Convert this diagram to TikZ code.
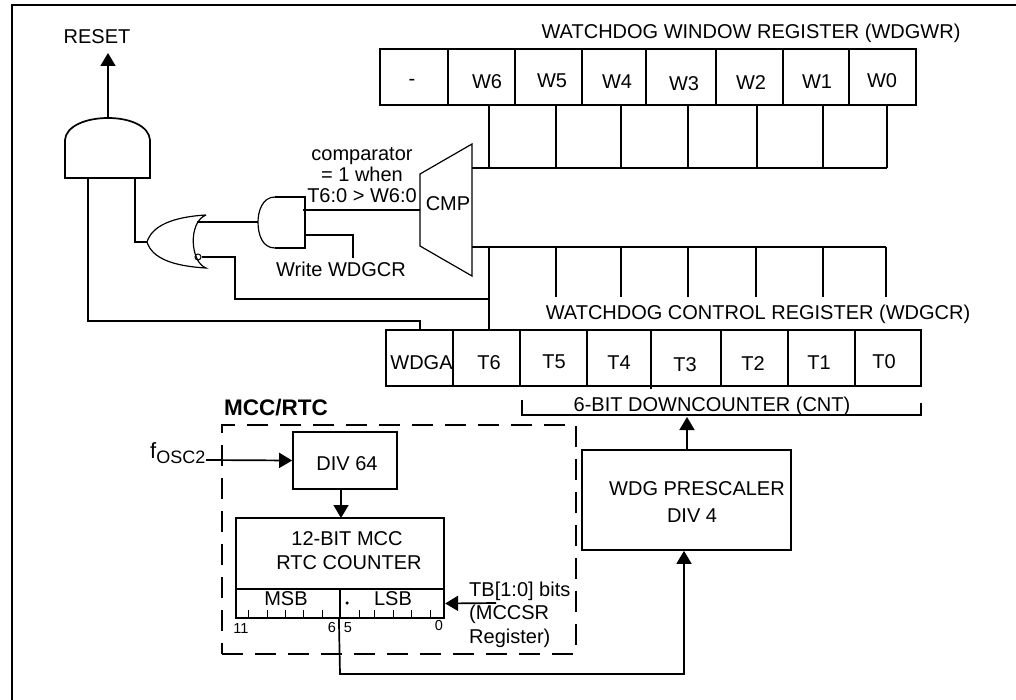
\documentclass[tikz,border=0pt]{standalone}
\usepackage{fontspec}
\setmainfont{Liberation Sans}
\usetikzlibrary{arrows.meta}
\tikzset{
  wire/.style={line width=1.7pt},
  arrow wire/.style={wire,-{Triangle[length=13pt,width=15pt]}},
  txt/.style={inner sep=0pt,text height=14.3pt,text depth=0pt,font=\fontsize{20}{21}\selectfont},
  small txt/.style={inner sep=0pt,text height=10.4pt,text depth=0pt,font=\fontsize{14.5}{15}\selectfont},
  box/.style={draw,line width=1.7pt,rectangle,inner sep=0pt},
  reg cell/.style={box,minimum height=56pt}
}
\begin{document}
\begin{tikzpicture}[x=1pt,y=-1pt]
      \useasboundingbox (0,0) rectangle (1016,700);
      \coordinate (frame a) at (12,700);
      \coordinate (frame b) at (12,5);
      \coordinate (frame c) at (1016,5);
      \draw[line width=2pt] (frame a) -- (frame b) -- (frame c);

      % window register
      \node[txt] (wwr title) at (751,31) {WATCHDOG WINDOW REGISTER (WDGWR)};
      \node[reg cell,minimum width=68pt] (wd) at (414,77) {};
      \node[reg cell,minimum width=67pt] (w6) at (481.5,77) {};
      \node[reg cell,minimum width=67pt] (w5) at (548.5,77) {};
      \node[reg cell,minimum width=64pt] (w4) at (614,77) {};
      \node[reg cell,minimum width=70pt] (w3) at (681,77) {};
      \node[reg cell,minimum width=67pt] (w2) at (749.5,77) {};
      \node[reg cell,minimum width=66pt] (w1) at (816,77) {};
      \node[reg cell,minimum width=67pt] (w0) at (882.5,77) {};
      \node[txt] (wd text) at (412,78) {-};
      \node[txt] (w6 text) at (487,81) {W6};
      \node[txt] (w5 text) at (552,80) {W5};
      \node[txt] (w4 text) at (617,81) {W4};
      \node[txt] (w3 text) at (684,83) {W3};
      \node[txt] (w2 text) at (751,82) {W2};
      \node[txt] (w1 text) at (817,81) {W1};
      \node[txt] (w0 text) at (882,80) {W0};

      % control register
      \node[txt] (wcr title) at (758,312) {WATCHDOG CONTROL REGISTER (WDGCR)};
      \node[reg cell,minimum width=67pt] (wdga) at (419.5,358) {};
      \node[reg cell,minimum width=67pt] (t6) at (486.5,358) {};
      \node[reg cell,minimum width=67pt] (t5) at (553.5,358) {};
      \node[reg cell,minimum width=64pt] (t4) at (619,358) {};
      \node[reg cell,minimum width=70pt] (t3) at (686,358) {};
      \node[reg cell,minimum width=67pt] (t2) at (754.5,358) {};
      \node[reg cell,minimum width=67pt] (t1) at (821.5,358) {};
      \node[reg cell,minimum width=66pt] (t0) at (888,358) {};
      \node[txt] (wdga text) at (421.5,362) {WDGA};
      \node[txt] (t6 text) at (489,362) {T6};
      \node[txt] (t5 text) at (554,361) {T5};
      \node[txt] (t4 text) at (619,362) {T4};
      \node[txt] (t3 text) at (685,364) {T3};
      \node[txt] (t2 text) at (753,363) {T2};
      \node[txt] (t1 text) at (819,362) {T1};
      \node[txt] (t0 text) at (884,361) {T0};

      % comparator
      \coordinate (cmp a) at (420,174);
      \coordinate (cmp b) at (472,144);
      \coordinate (cmp c) at (472,276);
      \coordinate (cmp d) at (420,246);
      \draw[line width=1.2pt] (cmp a) -- (cmp b) -- (cmp c) -- (cmp d) -- cycle;
      \node[txt] (cmp) at (448,203) {CMP};
      \node[txt] (cmp note a) at (362,153) {comparator};
      \node[txt] (cmp note b) at (362,174) {= 1 when};
      \node[txt] (cmp note c) at (362,195) {T6:0 > W6:0};

      % buses
      \coordinate (bus w) at (472,168);
      \coordinate (bus w end) at (887,168);
      \coordinate (bus t) at (472,247);
      \coordinate (bus t end) at (886,247);
      \draw[wire] (bus w) -- (bus w end);
      \draw[wire] (bus t) -- (bus t end);
      \coordinate (w6 tap) at (489,168);
      \coordinate (w5 tap) at (556,168);
      \coordinate (w4 tap) at (621,168);
      \coordinate (w3 tap) at (688,168);
      \coordinate (w2 tap) at (757,168);
      \coordinate (w1 tap) at (823,168);
      \draw[wire] (w6.south -| w6 tap) -- (w6 tap);
      \draw[wire] (w5.south -| w5 tap) -- (w5 tap);
      \draw[wire] (w4.south -| w4 tap) -- (w4 tap);
      \draw[wire] (w3.south -| w3 tap) -- (w3 tap);
      \draw[wire] (w2.south -| w2 tap) -- (w2 tap);
      \draw[wire] (w1.south -| w1 tap) -- (w1 tap);
      \draw[wire] (w0.south -| bus w end) -- (bus w end);
      \coordinate (t6 tap) at (489,247);
      \coordinate (t5 tap) at (556,247);
      \coordinate (t4 tap) at (621,247);
      \coordinate (t3 tap) at (688,247);
      \coordinate (t2 tap) at (756,247);
      \coordinate (t1 tap) at (823,247);
      \draw[wire] (t6 tap) -- (t6.north -| t6 tap);
      \draw[wire] (t5 tap) -- ++(0,50);
      \draw[wire] (t4 tap) -- ++(0,50);
      \draw[wire] (t3 tap) -- ++(0,50);
      \draw[wire] (t2 tap) -- ++(0,50);
      \draw[wire] (t1 tap) -- ++(0,50);
      \draw[wire] (bus t end) -- ++(0,50);

      % gates
      \coordinate (and out) at (108,118);
      \node[txt] (reset) at (97,36) {RESET};
      \coordinate (reset tip) at (108,53);
      \draw[arrow wire] (and out) -- (reset tip);
      \draw[wire] (65,140) .. controls (66,126) and (86,118) .. (and out)
                  .. controls (130,118) and (149,126) .. (150,140) -- (150,178) -- (65,178) -- cycle;
      \coordinate (nor in) at (147,242);
      \coordinate (nor top) at (206,215);
      \coordinate (nor bot) at (206,268);
      \draw[line width=1.2pt] (nor top) .. controls (172,217) and (152,226) .. (nor in)
                  .. controls (152,258) and (172,266) .. (nor bot)
                  .. controls (190,262) and (188,222) .. (nor top);
      \node[circle,draw,line width=1pt,minimum size=6pt,inner sep=0pt] (inv) at (198,257) {};
      \coordinate (and2 in) at (258,222);
      \draw[wire] (275,197) -- (305,197) -- (305,248) -- (275,248);
      \draw[line width=1.2pt] (275,197) .. controls (262,197) and (258,212) .. (and2 in)
                  .. controls (258,234) and (262,248) .. (275,248);
      \node[txt] (write) at (341,269) {Write WDGCR};

      \draw[wire] (197,222) -- (and2 in);
      \draw[wire] (303,210) -- (cmp a |- 0,210);
      \draw[wire] (305,235) -- (353,235) -- (353,258);
      \draw[wire] (inv.east) -- (235,257) -- (235,299) -- (489,299);
      \draw[wire] (135,178) -- (135,242) -- (nor in);
      \draw[wire] (88,178) -- (88,321) -- (420,321) -- (wdga.north -| 420,0);

      % down counter
      \node[txt] (cnt) at (712,404) {6-BIT DOWNCOUNTER (CNT)};
      \coordinate (cnt l) at (522,415);
      \coordinate (cnt r) at (921,415);
      \draw[wire] (522,400) -- (cnt l) -- (cnt r) -- (921,403);
      \draw[wire] (651,386) -- (651,389);

      % prescaler
      \node[box,minimum width=209pt,minimum height=100pt] (presc) at (686.5,500) {};
      \node[txt] (presc a) at (697,488) {WDG PRESCALER};
      \node[txt] (presc b) at (692,515) {DIV 4};
      \draw[arrow wire] (presc.north -| 687,0) -- (687,417);

      % mcc/rtc
      \node[txt,text height=16pt,font=\fontsize{22.5}{24}\selectfont\bfseries] (mcc) at (276,407) {MCC/RTC};
      \node[draw,line width=1.7pt,dash pattern=on 21pt off 12pt,minimum width=354pt,minimum height=229pt,inner sep=0pt] (mcc box) at (399,539.5) {};
      \node[box,minimum width=104pt,minimum height=57pt] (div) at (345,460.5) {};
      \node[txt] (div text) at (347,463) {DIV 64};
      \node[inner sep=0pt,anchor=base west] (fosc) at (150,458) {\fontsize{22}{24}\selectfont f\raisebox{-5pt}{\fontsize{18}{20}\selectfont OSC2}};
      \draw[arrow wire] (206,460) -- (div.west);
      \node[box,minimum width=208pt,minimum height=71pt] (counter) at (340,553.5) {};
      \draw[arrow wire] (div.south -| 341,0) -- (341,518);
      \node[txt] (c1) at (347,538) {12-BIT MCC};
      \node[txt] (c2) at (349,562) {RTC COUNTER};
      \node[box,minimum width=104pt,minimum height=29pt] (msb) at (288,603.5) {};
      \node[box,line width=2.2pt,minimum width=104pt,minimum height=29pt] (lsb) at (392,603.5) {};
      \node[txt] (msb text) at (286,598) {MSB};
      \node[txt] (lsb text) at (393,598) {LSB};
      \node[circle,fill,minimum size=3.5pt,inner sep=0pt] (dot) at (347,603) {};
      \draw[line width=1pt] (248,618) -- (248,610) (267,618) -- (267,610) (285,618) -- (285,610)
         (303,618) -- (303,610) (322,618) -- (322,610) (359,618) -- (359,610) (374,618) -- (374,610)
         (393,618) -- (393,610) (411,618) -- (411,610) (430,618) -- (430,610);
      \node[small txt] (n11) at (241,628) {11};
      \node[small txt] (n6) at (332,627) {6};
      \node[small txt] (n5) at (348,627) {5};
      \node[small txt] (n0) at (439,625) {0};
      \draw[arrow wire] (496,603) -- (lsb.east);
      \node[txt,anchor=west] (tb1) at (469,589) {TB[1:0] bits};
      \node[txt,anchor=west] (tb2) at (469,612) {(MCCSR};
      \node[txt,anchor=west] (tb3) at (469,636) {Register)};

      \draw[arrow wire] (lsb.south west) -- (340,674) -- (684,674) -- (presc.south -| 684,0);
\end{tikzpicture}
\end{document}
